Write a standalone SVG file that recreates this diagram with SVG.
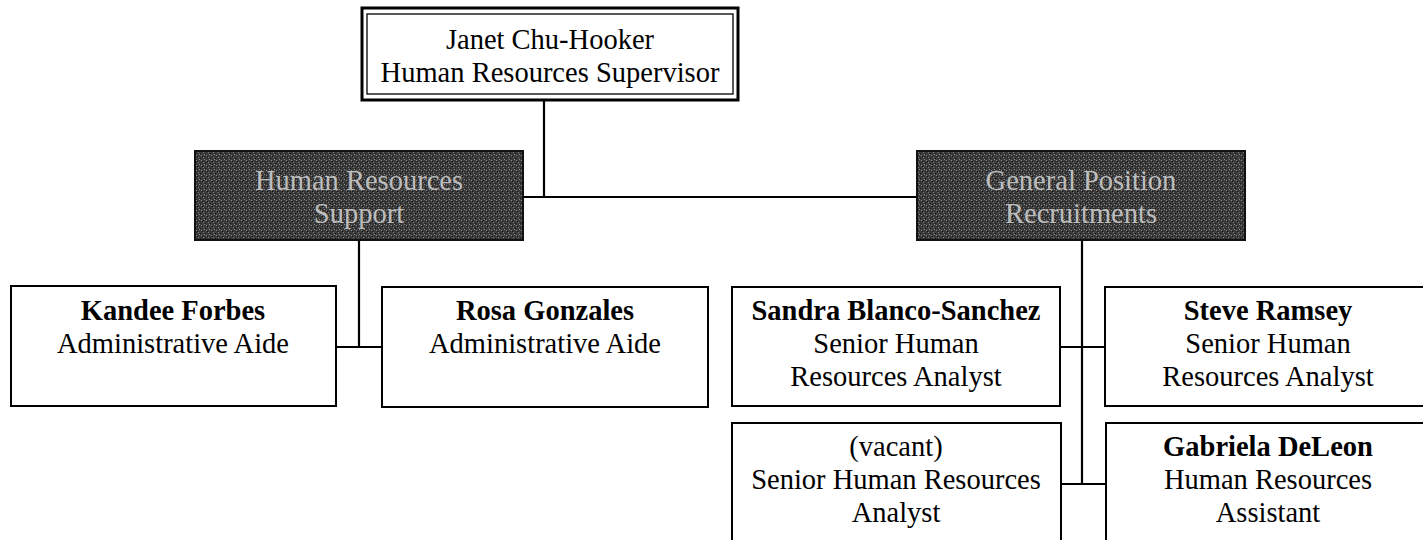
<svg xmlns="http://www.w3.org/2000/svg" width="1423" height="540" viewBox="0 0 1423 540">
<style>
.box{fill:#fff;stroke:#000;stroke-width:2}
.dark{fill:url(#noise);stroke:#111;stroke-width:2}
.t{font-family:"Liberation Serif","Times New Roman",serif;font-size:28.5px;fill:#000;text-anchor:middle}
.b{font-weight:bold}
.lt{font-family:"Liberation Serif","Times New Roman",serif;font-size:28.5px;fill:#bdbdbd;text-anchor:middle}
.conn{stroke:#000;stroke-width:2.2;fill:none}
</style>
<defs>
<pattern id="noise" width="5" height="5" patternUnits="userSpaceOnUse">
<rect width="5" height="5" fill="#3a3a3a"/>
<rect x="1" y="0" width="1" height="1" fill="#8a8a8a"/>
<rect x="3" y="2" width="1" height="1" fill="#7a7a7a"/>
<rect x="0" y="3" width="1" height="1" fill="#1a1a1a"/>
<rect x="4" y="4" width="1" height="1" fill="#909090"/>
<rect x="2" y="1" width="1" height="1" fill="#151515"/>
</pattern>
</defs>
<g id="connectors">
<path class="conn" d="M544 100 V197 M523 197 H917"/>
<path class="conn" d="M359 240 V347 M336 347 H382"/>
<path class="conn" d="M1082 240 V484 M1060 347 H1105 M1061 484 H1106"/>
</g>
<g id="supervisor">
<rect x="362" y="8" width="376" height="92" fill="#fff" stroke="#000" stroke-width="3"/>
<rect x="367" y="14" width="366" height="80" fill="none" stroke="#000" stroke-width="1.3"/>
<text class="t" x="550" y="49">Janet Chu-Hooker</text>
<text class="t" x="550" y="82">Human Resources Supervisor</text>
</g>
<g id="hr-support">
<rect class="dark" x="195" y="151" width="328" height="89"/>
<text class="lt" x="359" y="190">Human Resources</text>
<text class="lt" x="359" y="223">Support</text>
</g>
<g id="general-recruitments">
<rect class="dark" x="917" y="151" width="328" height="89"/>
<text class="lt" x="1081" y="190">General Position</text>
<text class="lt" x="1081" y="223">Recruitments</text>
</g>
<g id="kandee">
<rect class="box" x="11" y="286" width="325" height="120"/>
<text class="t b" x="173" y="320">Kandee Forbes</text>
<text class="t" x="173" y="353">Administrative Aide</text>
</g>
<g id="rosa">
<rect class="box" x="382" y="287" width="326" height="120"/>
<text class="t b" x="545" y="320">Rosa Gonzales</text>
<text class="t" x="545" y="353">Administrative Aide</text>
</g>
<g id="sandra">
<rect class="box" x="732" y="287" width="328" height="119"/>
<text class="t b" x="896" y="320">Sandra Blanco-Sanchez</text>
<text class="t" x="896" y="353">Senior Human</text>
<text class="t" x="896" y="386">Resources Analyst</text>
</g>
<g id="steve">
<rect class="box" x="1105" y="287" width="330" height="119"/>
<text class="t b" x="1268" y="320">Steve Ramsey</text>
<text class="t" x="1268" y="353">Senior Human</text>
<text class="t" x="1268" y="386">Resources Analyst</text>
</g>
<g id="vacant">
<rect class="box" x="732" y="423" width="329" height="125"/>
<text class="t" x="896" y="456">(vacant)</text>
<text class="t" x="896" y="489">Senior Human Resources</text>
<text class="t" x="896" y="522">Analyst</text>
</g>
<g id="gabriela">
<rect class="box" x="1106" y="423" width="330" height="125"/>
<text class="t b" x="1268" y="456">Gabriela DeLeon</text>
<text class="t" x="1268" y="489">Human Resources</text>
<text class="t" x="1268" y="522">Assistant</text>
</g>
</svg>
